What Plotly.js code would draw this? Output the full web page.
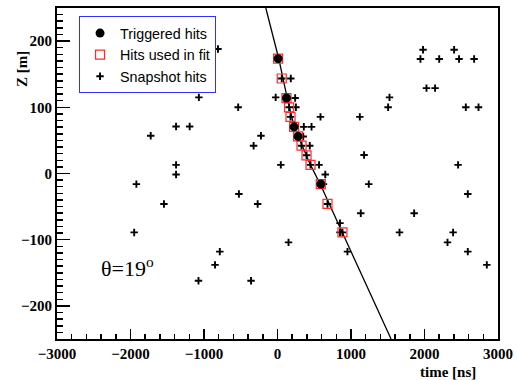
<!DOCTYPE html>
<html>
<head>
<meta charset="utf-8">
<script src="https://cdn.plot.ly/plotly-3.0.1.min.js"></script>
<style>html,body{margin:0;padding:0;background:#fff;}#chart{width:517px;height:380px;}</style>
</head>
<body>
<div id="chart"></div>
<script>
// Snapshot hits (time [ns], Z [m])
const snapT = [-810,-1070,-535,-1725,-1380,-1195,-325,-225,-1380,-1380,-1920,-1545,-525,-270,-1950,-785,-850,-1075,-360,-25,45,150,
  8,58,181,122,240,158,250,177,585,226,358,463,280,350,327,439,395,449,565,650,625,680,850,850,884,952,
  1120,1178,1242,1524,1505,1980,1945,2200,2403,2470,2675,2027,2144,2562,2735,2457,2589,1133,1859,1660,2389,2313,2589,2848];
const snapZ = [188,115,100,57,71,71,42,57,13,-1.5,-16,-46,-31,-46,-89,-118,-138,-162,-162,115,13,-104,
  173.5,143.5,143.5,114,114,100,100,85.5,85.5,70.5,70.5,70.5,56,56,42,42,27.5,13,13,-1.5,-16,-46,-75,-89,-89,-118,
  85.5,28,-16,115,100,187,173,173,187,173,173,129,129,100,100,13,-31,-60,-60,-89,-89,-104,-118,-138];
// Hits used in fit
const fitT = [8,58,122,158,177,226,280,327,395,449,589,680,884];
const fitZ = [173.5,143.5,114,100,85.5,70.5,56,42,27.5,13,-16,-46,-89];
// Triggered hits
const trigT = [8,122,226,280,589];
const trigZ = [173.5,114,70.5,56,-16];
// Fitted track curve
const curveT = [-159,18,131,226,449,585,1120,1545];
const curveZ = [250,173,114.6,70.7,13,-17,-147,-250];

function sb(){ return {family:'Liberation Serif', size:15, color:'#000', weight:700}; }

const traces = [
  {x:curveT, y:curveZ, mode:'lines', line:{color:'#000', width:1.3}, showlegend:false, hoverinfo:'skip'},
  {x:snapT, y:snapZ, mode:'markers', name:'Snapshot hits', legendrank:3,
   marker:{symbol:'cross-thin', size:5.3, color:'#000', line:{color:'#000', width:1.9}}},
  {x:fitT, y:fitZ, mode:'markers', name:'Hits used in fit', legendrank:2,
   marker:{symbol:'square-open', size:9, color:'#ff2a2a', line:{color:'#ff2a2a', width:1.2}}},
  {x:trigT, y:trigZ, mode:'markers', name:'Triggered hits', legendrank:1,
   marker:{symbol:'circle', size:9, color:'#000'}}
];

const layout = {
  width:517, height:380,
  margin:{l:57, r:19, t:8, b:41},
  paper_bgcolor:'#fff', plot_bgcolor:'#fff',
  showlegend:true,
  legend:{x:0.05, y:0.975, xanchor:'left', yanchor:'top', bgcolor:'#fff',
    bordercolor:'#3030ff', borderwidth:1,
    font:{family:'Liberation Sans', size:14.3, color:'#000'},
    tracegroupgap:0},
  xaxis:{range:[-3000,3000], dtick:1000, tick0:0, showgrid:false, zeroline:false,
    showline:true, mirror:true, linecolor:'#000', linewidth:2,
    ticks:'inside', ticklen:10, tickwidth:1.5, tickcolor:'#000',
    minor:{dtick:200, ticks:'inside', ticklen:5, tickwidth:1.5, tickcolor:'#000', showgrid:false},
    tickfont:sb()},
  yaxis:{range:[-250,250], dtick:100, tick0:0, showgrid:false, zeroline:false,
    showline:true, mirror:true, linecolor:'#000', linewidth:2,
    ticks:'inside', ticklen:13, tickwidth:1.5, tickcolor:'#000',
    minor:{dtick:10, ticks:'inside', ticklen:6, tickwidth:1.5, tickcolor:'#000', showgrid:false},
    tickfont:sb()},
  annotations:[
    {text:'<b>Z [m]</b>', xref:'paper', yref:'paper', x:-0.079, y:0.816, textangle:-90,
     showarrow:false, font:sb(), xanchor:'center', yanchor:'middle'},
    {text:'<b>time [ns]</b>', xref:'paper', yref:'paper', x:0.887, y:-0.1, showarrow:false,
     font:sb(), xanchor:'center', yanchor:'middle'},
    {text:'θ=19<sup>o</sup>', xref:'x', yref:'y', x:-2430, y:-141, showarrow:false,
     xanchor:'left', yanchor:'middle',
     font:{family:'Liberation Serif', size:22, color:'#000'}}
  ]
};

Plotly.newPlot('chart', traces, layout, {displayModeBar:false, staticPlot:true});
</script>
</body>
</html>
